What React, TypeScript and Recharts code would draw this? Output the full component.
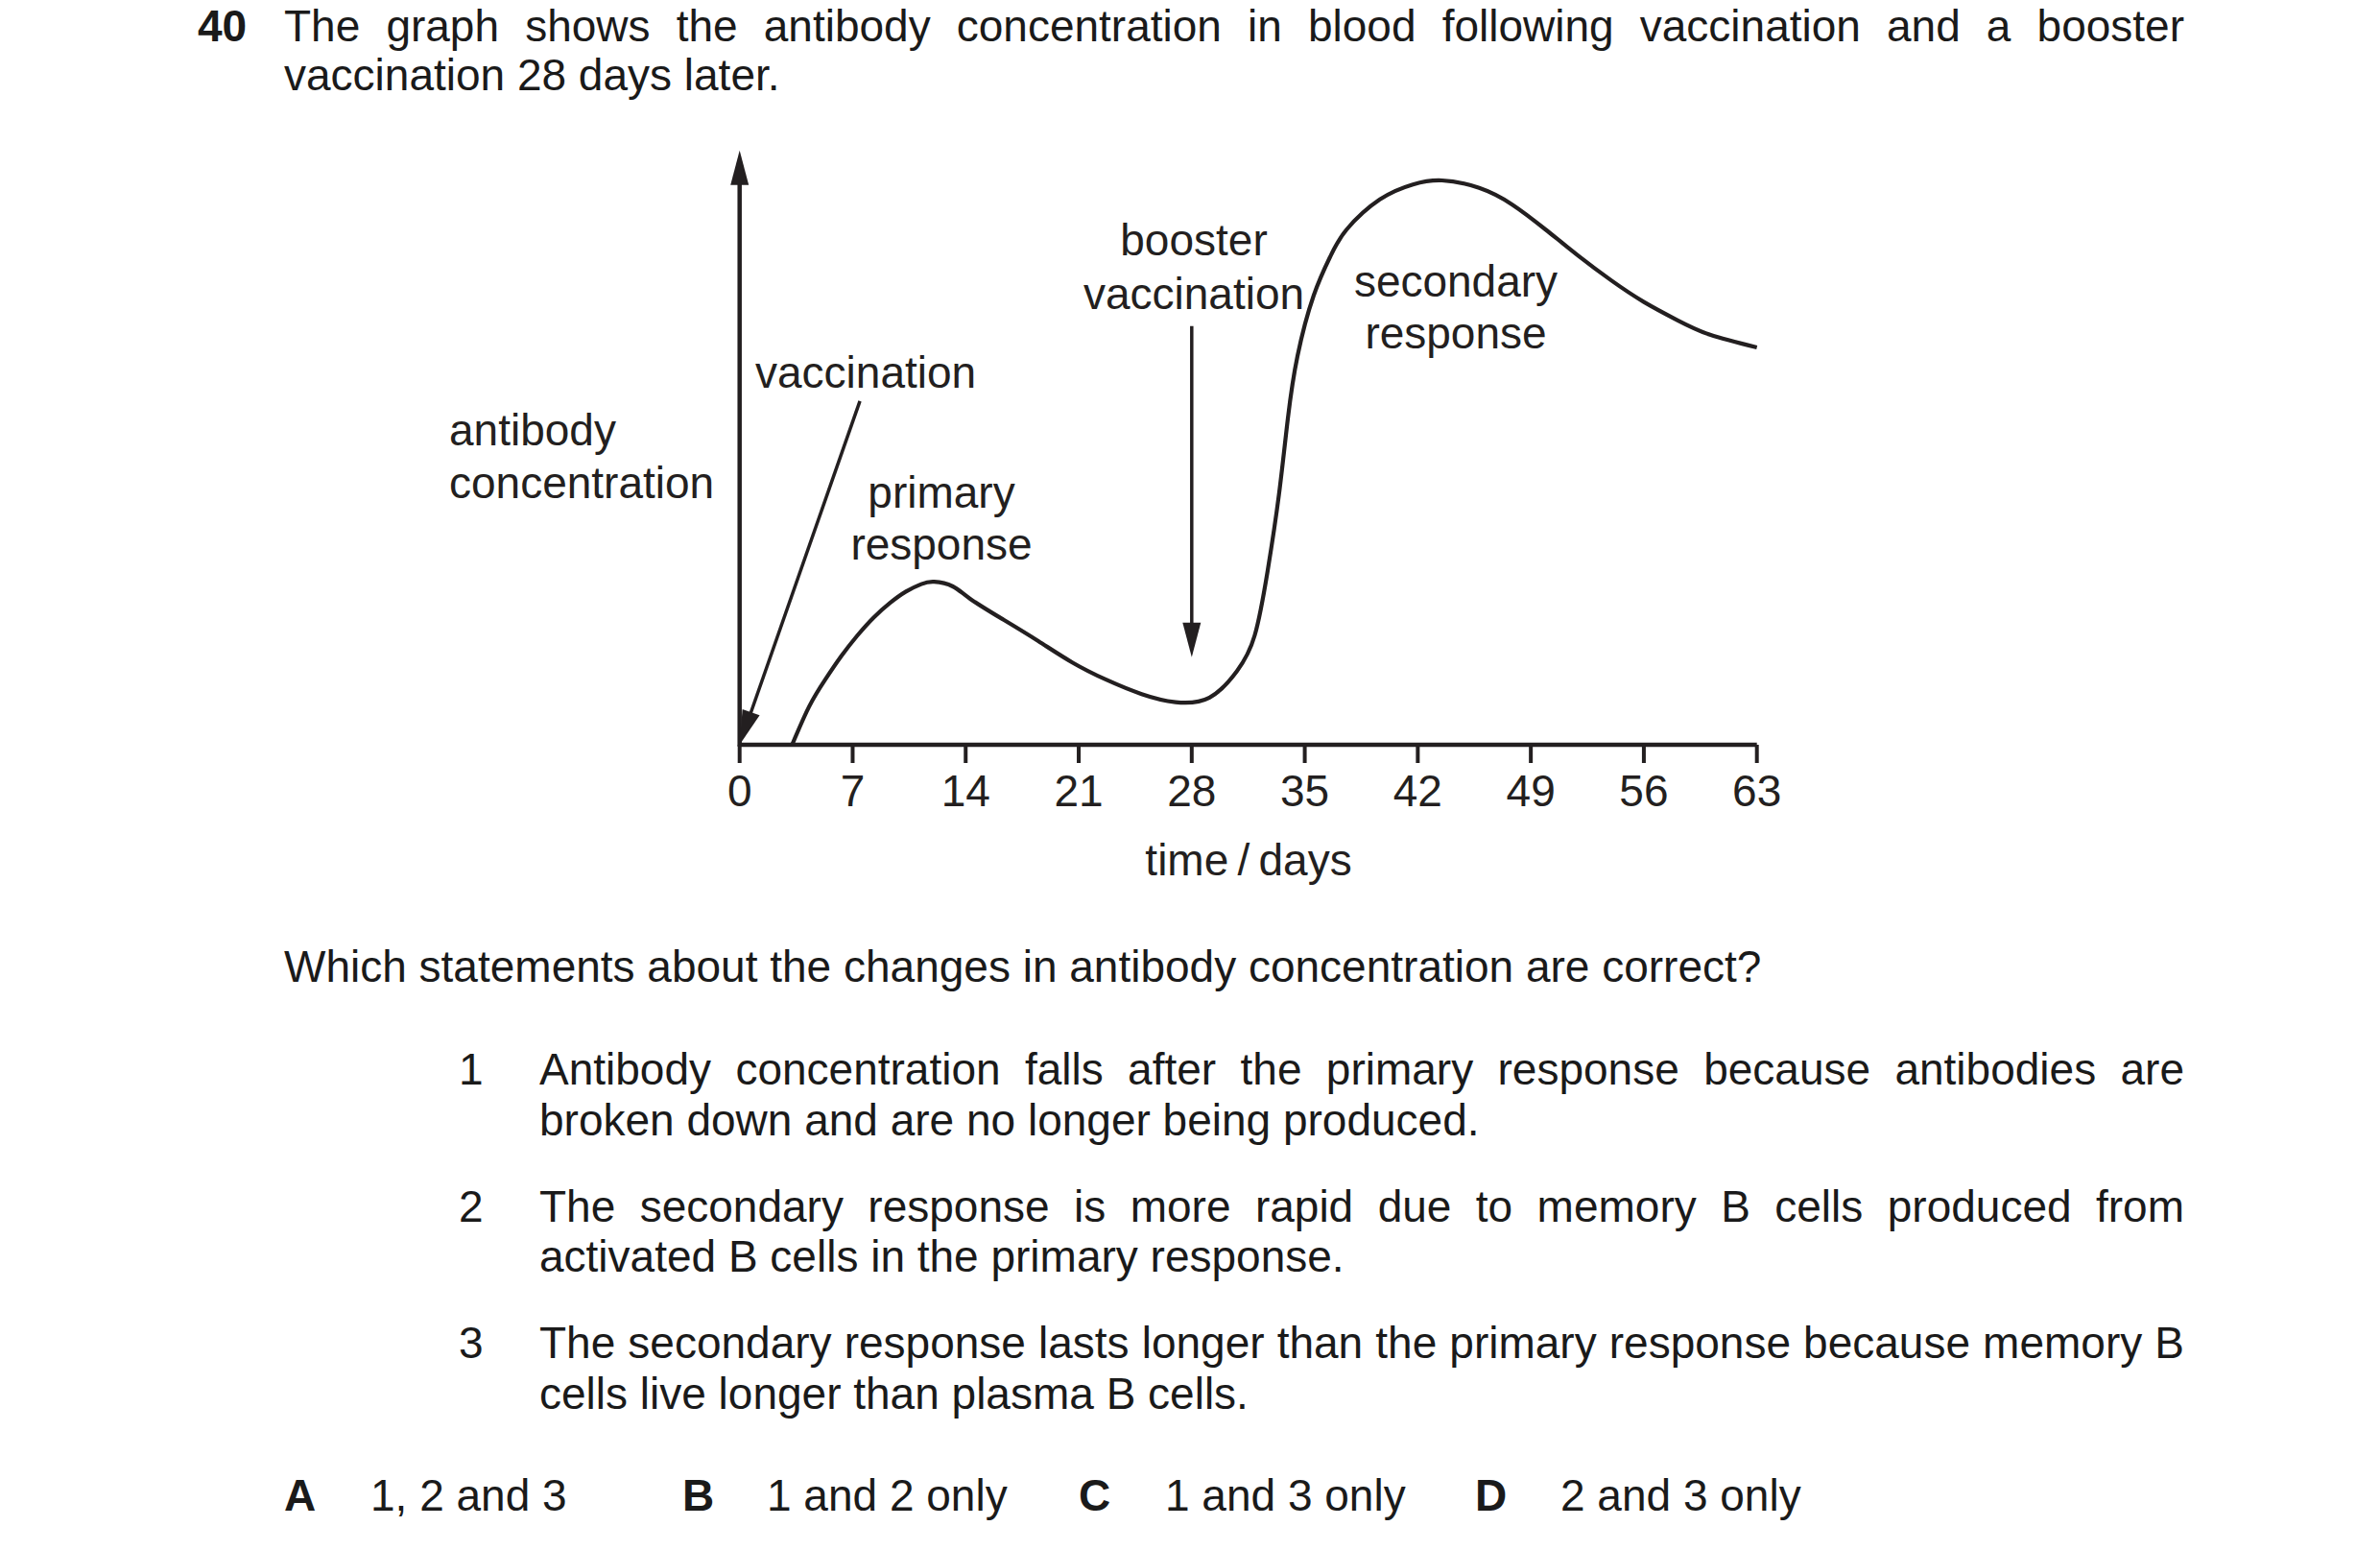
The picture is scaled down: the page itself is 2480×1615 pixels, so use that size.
import React from "react";
import { LineChart, Line, XAxis, YAxis, ReferenceLine } from "recharts";

const FONT = "'Liberation Sans', Arial, Helvetica, sans-serif";
const INK = "#231f20";

// curve (day, antibody concentration in arbitrary units)
const curveDays = [3.25, 4.3, 5.3, 6.3, 7.3, 8.3, 9.3, 10.3, 11.25, 12.05, 13.2, 14.3, 16.35, 18.5, 20.6, 22.7, 24.9, 27, 29.1, 30.8, 31.9, 32.7, 33.4, 33.95, 34.55, 35.55, 36.6, 37.6, 39.65, 41.7, 43.5, 45.8, 47.85, 49.9, 51.95, 54, 56, 58.1, 60.1, 63];
const curveValues = [0, 6.6, 11.3, 15.4, 19, 22.1, 24.6, 26.6, 27.9, 28.3, 27.5, 25.3, 21.7, 18, 14.3, 11.3, 8.8, 7.4, 8.2, 12.8, 19, 30.2, 43.4, 56.6, 67.5, 78, 84.9, 89.5, 94.7, 97.3, 98, 96.7, 93.8, 89.5, 84.9, 80.6, 76.9, 73.7, 71.2, 69];

const dayTicks = [0, 7, 14, 21, 28, 35, 42, 49, 56, 63];

// arrows: [fromDay, fromValue, toDay, toValue]
const yAxisArrow = [0, -0.3, 0, 103.2];
const vaccinationArrow = [7.45, 59.7, 0, 0];
const boosterArrow = [28, 72.7, 28, 15.2];

const data = curveDays.map((d, i) => ({ day: d, c: curveValues[i] }));

const ArrowShape = (props: any) => {
  const { x1, y1, x2, y2 } = props;
  if ([x1, y1, x2, y2].some((v) => typeof v !== "number" || isNaN(v))) return null;
  const dx = x2 - x1;
  const dy = y2 - y1;
  const len = Math.sqrt(dx * dx + dy * dy) || 1;
  const ux = dx / len;
  const uy = dy / len;
  const L = 36;
  const w = 9.5;
  const bx = x2 - ux * L;
  const by = y2 - uy * L;
  const nx = -uy;
  const ny = ux;
  const pts = `${x2},${y2} ${bx + nx * w},${by + ny * w} ${bx - nx * w},${by - ny * w}`;
  return (
    <g>
      <line x1={x1} y1={y1} x2={bx + ux * 4} y2={by + uy * 4} stroke={INK} strokeWidth={props.sw || 4} />
      <polygon points={pts} fill={INK} />
    </g>
  );
};

type LineSpec = { text: string; left: number; base: number; right?: number; bold?: boolean };

const pageLines: LineSpec[] = [
  { text: "The graph shows the antibody concentration in blood following vaccination and a booster", left: 296, base: 43, right: 2276 },
  { text: "vaccination 28 days later.", left: 296, base: 94 },
  { text: "Which statements about the changes in antibody concentration are correct?", left: 296, base: 1023 },
  { text: "1", left: 478, base: 1130 },
  { text: "Antibody concentration falls after the primary response because antibodies are", left: 562, base: 1130, right: 2276 },
  { text: "broken down and are no longer being produced.", left: 562, base: 1183 },
  { text: "2", left: 478, base: 1273 },
  { text: "The secondary response is more rapid due to memory B cells produced from", left: 562, base: 1273, right: 2276 },
  { text: "activated B cells in the primary response.", left: 562, base: 1325 },
  { text: "3", left: 478, base: 1415 },
  { text: "The secondary response lasts longer than the primary response because memory B", left: 562, base: 1415, right: 2276 },
  { text: "cells live longer than plasma B cells.", left: 562, base: 1468 },
  { text: "40", left: 206, base: 43, bold: true },
  { text: "A", left: 296, base: 1574, bold: true },
  { text: "1, 2 and 3", left: 386, base: 1574 },
  { text: "B", left: 711, base: 1574, bold: true },
  { text: "1 and 2 only", left: 799, base: 1574 },
  { text: "C", left: 1124, base: 1574, bold: true },
  { text: "1 and 3 only", left: 1214, base: 1574 },
  { text: "D", left: 1537, base: 1574, bold: true },
  { text: "2 and 3 only", left: 1626, base: 1574 },
];

type Label = { text: string; x: number; y: number; anchor: "start" | "middle" };
const chartLabels: Label[] = [
  { text: "antibody", x: 468, y: 464, anchor: "start" },
  { text: "concentration", x: 468, y: 519, anchor: "start" },
  { text: "vaccination", x: 787, y: 404, anchor: "start" },
  { text: "primary", x: 981, y: 529, anchor: "middle" },
  { text: "response", x: 981, y: 583, anchor: "middle" },
  { text: "booster", x: 1244, y: 266, anchor: "middle" },
  { text: "vaccination", x: 1244, y: 322, anchor: "middle" },
  { text: "secondary", x: 1517, y: 309, anchor: "middle" },
  { text: "response", x: 1517, y: 363, anchor: "middle" },
  { text: "time\u2009/\u2009days", x: 1301, y: 912, anchor: "middle" },
];

export default function App() {
  return (
    <div style={{ position: "relative", width: 2480, height: 1615, background: "#fff", fontFamily: FONT, overflow: "hidden" }}>
      <style>{`body{margin:0;background:#fff}`}</style>
      <div style={{ position: "absolute", left: 0, top: 0 }}>
        <LineChart width={2480} height={1615} data={data} margin={{ top: 158, right: 649.3, bottom: 779, left: 770.7 }}>
          <XAxis
            dataKey="day"
            type="number"
            domain={[0, 63]}
            ticks={dayTicks}
            interval={0}
            height={60}
            stroke={INK}
            axisLine={{ stroke: INK, strokeWidth: 4.5 }}
            tickLine={{ stroke: INK, strokeWidth: 4 }}
            tickSize={19}
            tickMargin={12}
            tick={{ fontSize: 46, fill: INK, fontFamily: FONT }}
          />
          <YAxis hide domain={[0, 103]} type="number" allowDataOverflow />
          <ReferenceLine
            ifOverflow="visible"
            segment={[{ x: yAxisArrow[0], y: yAxisArrow[1] }, { x: yAxisArrow[2], y: yAxisArrow[3] }]}
            shape={(p: any) => <ArrowShape {...p} sw={4.5} />}
          />
          <ReferenceLine
            ifOverflow="visible"
            segment={[{ x: vaccinationArrow[0], y: vaccinationArrow[1] }, { x: vaccinationArrow[2], y: vaccinationArrow[3] }]}
            shape={(p: any) => <ArrowShape {...p} sw={3.5} />}
          />
          <ReferenceLine
            ifOverflow="visible"
            segment={[{ x: boosterArrow[0], y: boosterArrow[1] }, { x: boosterArrow[2], y: boosterArrow[3] }]}
            shape={(p: any) => <ArrowShape {...p} sw={3.5} />}
          />
          <Line
            type="natural"
            dataKey="c"
            stroke={INK}
            strokeWidth={4.2}
            dot={false}
            activeDot={false}
            isAnimationActive={false}
          />
        </LineChart>
      </div>
      <svg width={2480} height={1615} style={{ position: "absolute", left: 0, top: 0, pointerEvents: "none" }}>
        {chartLabels.map((l, i) => (
          <text key={i} x={l.x} y={l.y} textAnchor={l.anchor} fontSize={46} fontFamily={FONT} fill={INK}>
            {l.text}
          </text>
        ))}
      </svg>
      {pageLines.map((l, i) => (
        <div
          key={i}
          style={{
            position: "absolute",
            left: l.left,
            top: l.base - 39,
            width: l.right ? l.right - l.left : undefined,
            whiteSpace: l.right ? "normal" : "nowrap",
            fontSize: 46,
            lineHeight: "46px",
            fontWeight: l.bold ? 700 : 400,
            color: "#1a1a1a",
            textAlign: l.right ? "justify" : "left",
            textAlignLast: l.right ? "justify" : undefined,
          } as React.CSSProperties}
        >
          {l.text}
        </div>
      ))}
    </div>
  );
}
